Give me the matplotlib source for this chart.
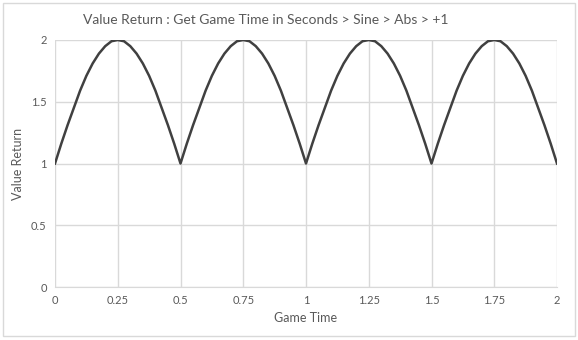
import matplotlib
matplotlib.use("Agg")
import matplotlib.pyplot as plt
from matplotlib.patches import Rectangle

# one hump of the curve, read at steps of 0.025 s
hump = [1.00, 1.16, 1.31, 1.45, 1.59, 1.71, 1.81, 1.89, 1.95, 1.99, 2.00,
        1.99, 1.95, 1.89, 1.81, 1.71, 1.59, 1.45, 1.31, 1.16]
game_time = [i * 0.025 for i in range(81)]
value_return = hump * 4 + [1.00]

x_ticks = [0, 0.25, 0.5, 0.75, 1, 1.25, 1.5, 1.75, 2]
x_labels = ["0", "0.25", "0.5", "0.75", "1", "1.25", "1.5", "1.75", "2"]
y_ticks = [0, 0.5, 1, 1.5, 2]
y_labels = ["0", "0.5", "1", "1.5", "2"]

plt.rcParams['font.family'] = ['Lato', 'DejaVu Sans']
txt = '#595959'
grid = '#d9d9d9'

fig = plt.figure(figsize=(5.78, 3.40), dpi=100)
fig.patches.append(Rectangle((3 / 578, 4 / 340), 572 / 578, 333 / 340, transform=fig.transFigure,
                             facecolor='none', edgecolor=grid, linewidth=1, zorder=-1))
ax = fig.add_axes([55 / 578, 1 - 287 / 340, 502 / 578, 247 / 340])
ax.patch.set_alpha(0)

ax.plot(game_time, value_return, color='#404040', linewidth=1.8)

ax.set_xlim(0, 2)
ax.set_ylim(0, 2)
ax.set_xticks(x_ticks)
ax.set_xticklabels(x_labels)
ax.set_yticks(y_ticks)
ax.set_yticklabels(y_labels)
ax.tick_params(length=0, labelsize=8, colors=txt, pad=6)
ax.grid(True, color=grid, linewidth=1)
ax.set_axisbelow(True)
for side in ['top', 'right', 'left']:
    ax.spines[side].set_visible(False)
ax.spines['bottom'].set_color(grid)

ax.set_xlabel("Game Time", fontsize=9, color=txt, labelpad=4)
ax.set_ylabel("Value Return", fontsize=9, color=txt, labelpad=5)
fig.text(266 / 578, 1 - 20 / 340, "Value Return : Get Game Time in Seconds > Sine > Abs > +1",
         fontsize=10, color=txt, ha='center', va='center')

fig.savefig("out.png", dpi=100)
